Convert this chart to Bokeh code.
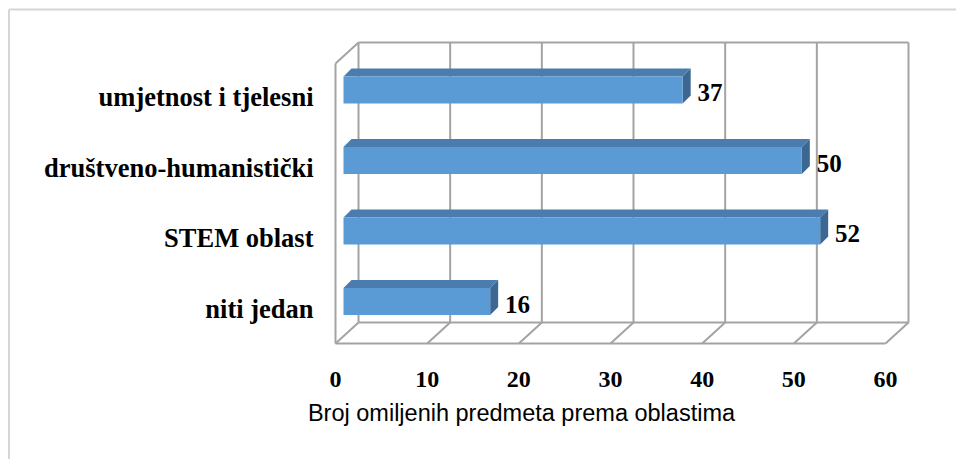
from bokeh.plotting import figure
from bokeh.models import Range1d, ColumnDataSource
from bokeh.core.properties import value
from bokeh.embed import file_html
from bokeh.resources import INLINE

# ---- data ----
categories = ["niti jedan", "STEM oblast", "društveno-humanistički", "umjetnost i tjelesni"]
counts = [16, 52, 50, 37]
x_ticks = [0, 10, 20, 30, 40, 50, 60]
x_title = "Broj omiljenih predmeta prema oblastima"

# ---- layout helpers (pixel scales of the pseudo-3D frame) ----
W, H = 956, 459
SX = 550 / 60.0      # px per unit on x
SY = 70.5            # px per category step
X0, Y0 = 335, 301    # px of value 0 / first category centre (from top)

p = figure(width=W, height=H, output_backend="svg", toolbar_location=None,
           x_range=Range1d(-X0 / SX, (W - X0) / SX),
           y_range=Range1d((Y0 - H) / SY, Y0 / SY),
           min_border=0, outline_line_color=None)
p.axis.visible = False
p.grid.visible = False
p.background_fill_color = "white"
p.border_fill_color = "white"

def px(cx):
    return (cx - X0) / SX

def py(cy):
    return (Y0 - cy) / SY

# outer chart border (left and top visible)
p.line([px(8.5), px(8.5)], [py(9), py(H + 2)], line_color="#d6d6d6", line_width=2)
p.line([px(8.5), px(W + 2)], [py(9), py(9)], line_color="#d6d6d6", line_width=2)

# ---- pseudo 3D walls ----
wx, wy = 23 / SX, 21 / SY          # wall depth
fy = py(343)                        # front floor line
ty = py(42)                         # back wall top
gcol, gw = "#a3a3a3", 2
xmin, xmax = x_ticks[0], x_ticks[-1]
for k in x_ticks:
    p.line([k + wx, k + wx], [fy + wy, ty], line_color=gcol, line_width=gw)
p.line([xmin + wx, xmax + wx], [ty, ty], line_color=gcol, line_width=gw)
p.line([xmin + wx, xmax + wx], [fy + wy, fy + wy], line_color=gcol, line_width=gw)
p.line([xmin, xmax], [fy, fy], line_color=gcol, line_width=gw)
for k in x_ticks:
    p.line([k, k + wx], [fy, fy + wy], line_color=gcol, line_width=gw)
p.line([xmin, xmin], [fy, ty - wy], line_color=gcol, line_width=gw)
p.line([xmin, xmin + wx], [ty - wy, ty], line_color=gcol, line_width=gw)

# ---- bars ----
bdx, bdy = 8 / SX, 8 / SY
half = 13.5 / SY
ys = list(range(len(categories)))
left = [bdx for _ in counts]
right = [v + bdx for v in counts]
bottom = [y - half for y in ys]
top = [y + half for y in ys]

top_xs = [[l, r, r + bdx, l + bdx] for l, r in zip(left, right)]
top_ys = [[t, t, t + bdy, t + bdy] for t in top]
side_xs = [[r, r, r + bdx, r + bdx] for r in right]
side_ys = [[b, t, t + bdy, b + bdy] for b, t in zip(bottom, top)]

p.patches(top_xs, top_ys, fill_color="#4A7DAE", line_color=None)
p.patches(side_xs, side_ys, fill_color="#3B6792", line_color=None)
p.quad(left=left, right=right, bottom=bottom, top=top,
       fill_color="#5B9BD5", line_color=None)

# ---- texts ----
serif = value("Liberation Serif")
vsrc = ColumnDataSource(dict(x=[v + 2.5 for v in counts],
                             y=[y - 2.5 / SY for y in ys],
                             t=[str(v) for v in counts]))
p.text("x", "y", text="t", source=vsrc, text_font=serif, text_font_style="bold",
       text_font_size="25px", text_align="left", text_baseline="alphabetic",
       text_color="black")
csrc = ColumnDataSource(dict(x=[px(313)] * len(categories),
                             y=[y - 7 / SY for y in ys], t=categories))
p.text("x", "y", text="t", source=csrc, text_font=serif, text_font_style="bold",
       text_font_size="26.5px", text_align="right", text_baseline="alphabetic",
       text_color="black")
tsrc = ColumnDataSource(dict(x=x_ticks, y=[py(379)] * len(x_ticks),
                             t=[str(k) for k in x_ticks]))
p.text("x", "y", text="t", source=tsrc, text_font=serif, text_font_style="bold",
       text_font_size="24px", text_align="center", text_baseline="alphabetic",
       text_color="black")
p.text([px(521)], [py(412)], text=[x_title], text_font=value("Liberation Sans"),
       text_font_size="23.5px", text_align="center", text_baseline="alphabetic",
       text_color="black")

open("out.html", "w").write(file_html(p, INLINE))
